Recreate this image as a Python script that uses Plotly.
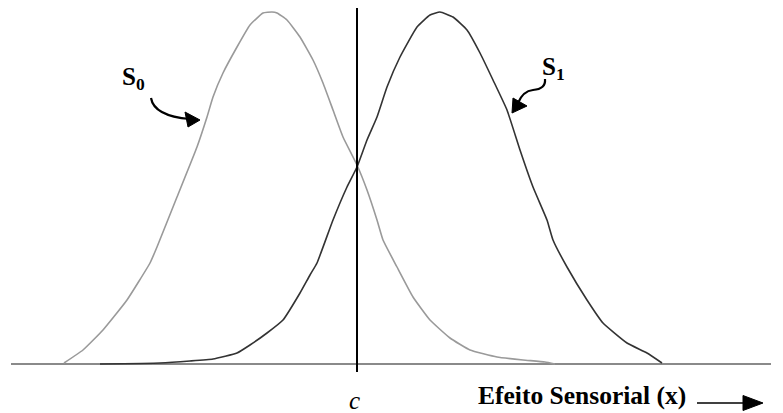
import plotly.graph_objects as go

# Curve S0 (noise) – x position and height above baseline
s0_x = [64, 83, 103, 127, 150, 157, 177, 197, 207, 213, 223, 237, 250, 263, 272,
        277, 287, 300, 313, 323, 333, 343, 357, 367, 377, 383, 397, 413, 430, 450,
        470, 497, 523, 545, 555]
s0_y = [1, 14, 34, 64, 101, 117, 167, 217, 247, 267, 291, 317, 339, 351, 352,
        351, 344, 327, 304, 281, 254, 227, 199, 174, 144, 124, 97, 67, 44, 26,
        14, 7, 4, 2, 0]

# Curve S1 (signal)
s1_x = [100, 160, 190, 213, 237, 250, 267, 283, 300, 310, 317, 333, 347, 357, 367,
        377, 387, 400, 417, 430, 440, 453, 467, 480, 493, 507, 520, 533, 547, 553,
        567, 587, 603, 627, 647, 662]
s1_y = [0, 1, 3, 5, 11, 19, 31, 44, 71, 89, 101, 144, 177, 197, 224,
        247, 277, 307, 337, 349, 352, 347, 334, 311, 284, 254, 214, 177, 144, 124,
        97, 64, 41, 21, 11, 1]

criterion_x = 357
base_px = 364


def h(py):
    return base_px - py


fig = go.Figure()
fig.add_trace(go.Scatter(x=s0_x, y=s0_y, mode="lines",
                         line=dict(color="#9a9a9a", width=1.6, shape="spline", smoothing=0.4),
                         hoverinfo="skip", showlegend=False))
fig.add_trace(go.Scatter(x=s1_x, y=s1_y, mode="lines",
                         line=dict(color="#333333", width=1.6, shape="spline", smoothing=0.4),
                         hoverinfo="skip", showlegend=False))

shapes = []
# baseline
shapes.append(dict(type="line", x0=11, x1=771, y0=0, y1=0,
                   line=dict(color="#8a8a8a", width=2), layer="below"))
# criterion line
shapes.append(dict(type="line", x0=criterion_x, x1=criterion_x, y0=h(8), y1=h(372),
                   line=dict(color="black", width=2)))

# S0 curved arrow
shapes.append(dict(type="path",
                   path=f"M 151,{h(98)} Q 154,{h(116)} 190,{h(119)}",
                   line=dict(color="black", width=2.2)))
shapes.append(dict(type="path",
                   path=f"M 200,{h(120)} L 185,{h(112)} L 188,{h(127)} Z",
                   fillcolor="black", line=dict(color="black", width=1)))
# S1 curved arrow
shapes.append(dict(type="path",
                   path=f"M 545,{h(79)} Q 546,{h(89)} 533,{h(90)} Q 523,{h(91)} 518,{h(103)}",
                   line=dict(color="black", width=2.2)))
shapes.append(dict(type="path",
                   path=f"M 512,{h(113)} L 513,{h(98)} L 527,{h(106)} Z",
                   fillcolor="black", line=dict(color="black", width=1)))
# axis label arrow
shapes.append(dict(type="line", x0=697, x1=745, y0=h(403), y1=h(403),
                   line=dict(color="black", width=1.6)))
shapes.append(dict(type="path",
                   path=f"M 763,{h(403)} L 743,{h(395.5)} L 743,{h(410.5)} Z",
                   fillcolor="black", line=dict(color="black", width=1)))

serif = "Liberation Serif, Times New Roman, serif"
annotations = [
    dict(x=133, y=h(78), text="<b>S<sub>0</sub></b>", showarrow=False,
         font=dict(family=serif, size=25, color="black"), xanchor="center", yanchor="middle"),
    dict(x=553, y=h(68), text="<b>S<sub>1</sub></b>", showarrow=False,
         font=dict(family=serif, size=25, color="black"), xanchor="center", yanchor="middle"),
    dict(x=354, y=h(400), text="<i>c</i>", showarrow=False,
         font=dict(family=serif, size=25, color="black"), xanchor="center", yanchor="middle"),
    dict(x=476, y=h(395), text="<b>Efeito Sensorial (x)</b>", showarrow=False,
         font=dict(family=serif, size=25.5, color="black"), xanchor="left", yanchor="middle"),
]

fig.update_layout(
    width=783, height=413,
    margin=dict(l=0, r=0, t=0, b=0),
    paper_bgcolor="white", plot_bgcolor="white",
    xaxis=dict(range=[0, 783], visible=False, fixedrange=True),
    yaxis=dict(range=[h(413), h(0)], visible=False, fixedrange=True),
    shapes=shapes, annotations=annotations, showlegend=False,
)

fig.write_html("out.html", config={"displayModeBar": False},
               post_script="document.body.style.margin='0';document.body.style.overflow='hidden';")
